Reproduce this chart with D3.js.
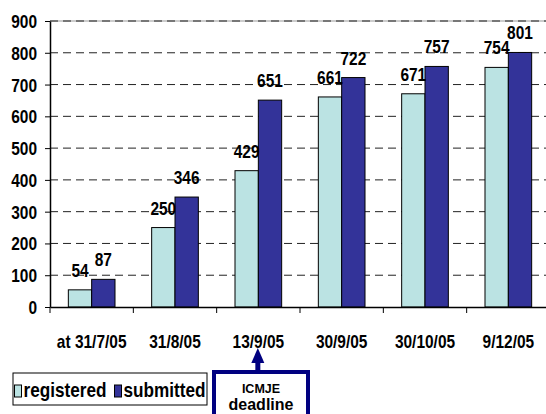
<!DOCTYPE html>
<html>
  <head>
    <meta charset="utf-8">
    <title>Trial registrations</title>
    <script src="https://d3js.org/d3.v7.min.js"></script>
    <style>
      body { margin: 0; background: #fff; }
      svg { display: block; }
      text { font-family: "Liberation Sans", Arial, sans-serif; font-weight: bold; fill: #000; }
    </style>
  </head>
  <body>
    <svg id="chart" width="546" height="414"></svg>
    <script>
      // data
      var categories = ["at 31/7/05", "31/8/05", "13/9/05", "30/9/05", "30/10/05", "9/12/05"];
      var series = ["registered", "submitted"];
      var registered = [54, 250, 429, 661, 671, 754];
      var submitted = [87, 346, 651, 722, 757, 801];
      var yTicks = [0, 100, 200, 300, 400, 500, 600, 700, 800, 900];
      var colours = { registered: "#bbe3e3", submitted: "#333399" };

      var margin = { top: 21, left: 50, bottom: 107, right: -4 };
      var width = 546, height = 414;
      var svg = d3.select("#chart");

      // fake a condensed face: squash text horizontally round its own x
      function narrow(sel, squeeze) {
        squeeze = squeeze || 0.86;
        sel.each(function() {
          var t = d3.select(this);
          var x = +t.attr("x") || 0;
          t.attr("x", x / squeeze)
            .attr("transform", "scale(" + squeeze + ",1)");
        });
      }

      var x0 = d3.scaleBand()
        .domain(categories)
        .range([margin.left, width - margin.right]);
      var x1 = d3.scaleBand()
        .domain(series)
        .range([x0.bandwidth() * 0.22, x0.bandwidth() * 0.78]);
      var y = d3.scaleLinear()
        .domain([0, 900])
        .range([height - margin.bottom, margin.top]);

      // plot area top edge, then gridlines
      svg.append("line")
        .attr("x1", margin.left)
        .attr("x2", width - margin.right)
        .attr("y1", y(900))
        .attr("y2", y(900))
        .attr("stroke", "#999")
        .attr("stroke-width", 1);
      svg.append("g")
        .selectAll("line")
        .data(yTicks.filter(function(d) { return d > 0; }))
        .join("line")
          .attr("x1", margin.left)
          .attr("x2", width - margin.right)
          .attr("y1", function(d) { return y(d); })
          .attr("y2", function(d) { return y(d); })
          .attr("stroke", "#222")
          .attr("stroke-width", 1)
          .attr("stroke-dasharray", "8,5");

      // bars
      var data = categories.map(function(c, i) {
        return { cat: c, values: [
          { key: "registered", value: registered[i] },
          { key: "submitted", value: submitted[i] }
        ] };
      });
      var groups = svg.append("g")
        .selectAll("g")
        .data(data)
        .join("g")
          .attr("transform", function(d) { return "translate(" + x0(d.cat) + ",0)"; });
      groups.selectAll("rect")
        .data(function(d) { return d.values; })
        .join("rect")
          .attr("x", function(d) { return x1(d.key); })
          .attr("width", x1.bandwidth())
          .attr("y", function(d) { return y(d.value); })
          .attr("height", function(d) { return y(0) - y(d.value); })
          .attr("fill", function(d) { return colours[d.key]; })
          .attr("stroke", "#000")
          .attr("stroke-width", 1);
      groups.selectAll("text")
        .data(function(d) { return d.values; })
        .join("text")
          .attr("x", function(d) { return x1(d.key) + x1.bandwidth() / 2; })
          .attr("y", function(d) { return y(d.value) - 13; })
          .attr("text-anchor", "middle")
          .style("font-size", "18px")
          .text(function(d) { return d.value; })
          .call(narrow);

      // y axis
      var yAxis = svg.append("g")
        .attr("transform", "translate(" + margin.left + ",0)")
        .call(d3.axisLeft(y).tickValues(yTicks).tickSize(5).tickSizeOuter(0));
      yAxis.select(".domain").attr("stroke", "#000").attr("stroke-width", 1.5);
      yAxis.selectAll(".tick line").attr("stroke", "#000");
      yAxis.selectAll(".tick text")
        .attr("x", -13)
        .attr("dy", "0.36em")
        .style("font-size", "18px")
        .call(narrow);

      // x axis
      var xAxis = svg.append("g")
        .attr("transform", "translate(0," + y(0) + ")")
        .call(d3.axisBottom(x0).tickSize(0));
      xAxis.select(".domain").attr("stroke", "#000").attr("stroke-width", 1.5);
      xAxis.selectAll(".tick text")
        .attr("y", 41)
        .attr("dy", 0)
        .style("font-size", "18px")
        .call(narrow);
      xAxis.selectAll(".sep")
        .data(categories)
        .join("line")
          .attr("class", "sep")
          .attr("x1", function(d) { return x0(d); })
          .attr("x2", function(d) { return x0(d); })
          .attr("y1", 0)
          .attr("y2", 6)
          .attr("stroke", "#000");

      // legend
      var legend = svg.append("g");
      legend.append("rect")
        .attr("x", 13).attr("y", 373).attr("width", 194).attr("height", 32)
        .attr("fill", "#fff").attr("stroke", "#000");
      var legendX = [14.5, 114.5];
      series.forEach(function(s, i) {
        legend.append("rect")
          .attr("x", legendX[i]).attr("y", 385).attr("width", 7).attr("height", 12)
          .attr("fill", colours[s]).attr("stroke", "#000");
        legend.append("text")
          .attr("x", legendX[i] + 9).attr("y", 397)
          .style("font-size", "19.5px")
          .text(s)
          .call(narrow, 0.88);
      });

      // deadline annotation
      var ax = x0("13/9/05") + x0.bandwidth() / 2 - 0.5;
      var note = svg.append("g");
      note.append("rect")
        .attr("x", 214).attr("y", 372).attr("width", 94).attr("height", 50)
        .attr("fill", "#fff").attr("stroke", "#000080").attr("stroke-width", 4);
      note.append("line")
        .attr("x1", ax).attr("x2", ax).attr("y1", 371).attr("y2", 360)
        .attr("stroke", "#000080").attr("stroke-width", 5);
      note.append("path")
        .attr("d", "M" + (ax - 6.5) + ",363L" + ax + ",348L" + (ax + 6.5) + ",363Z")
        .attr("fill", "#000080");
      note.append("text")
        .attr("x", 261).attr("y", 393)
        .attr("text-anchor", "middle")
        .style("font-size", "12.5px")
        .text("ICMJE");
      note.append("text")
        .attr("x", 261).attr("y", 410)
        .attr("text-anchor", "middle")
        .style("font-size", "16px")
        .text("deadline");
    </script>
  </body>
</html>
